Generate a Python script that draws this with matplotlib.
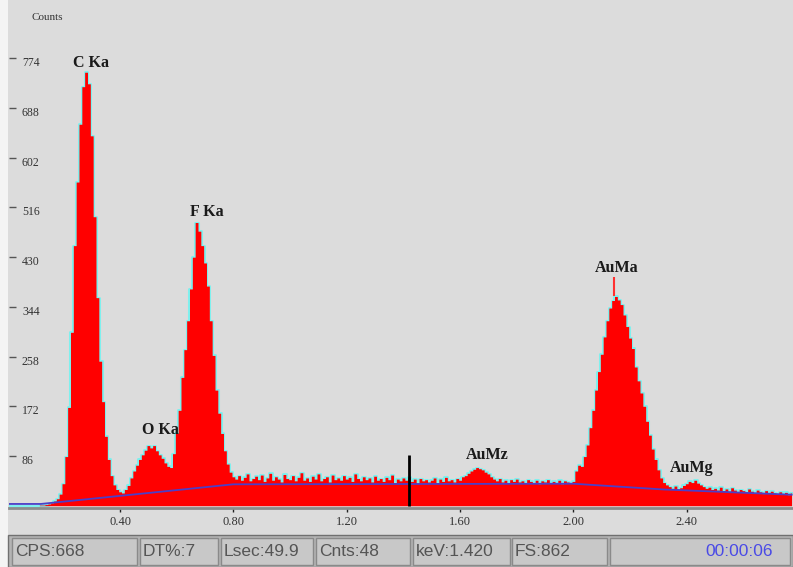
import numpy as np
import matplotlib
matplotlib.use("Agg")
import matplotlib.pyplot as plt
from matplotlib.patches import Rectangle

# EDS spectrum, 10 eV channels starting at 0 keV
channel_kev = 0.01
counts = [
    0, 0, 0, 0, 0, 0, 0, 0, 0, 0,
    0, 0, 1, 1, 2, 3, 5, 8, 12, 20,
    38, 85, 170, 300, 450, 560, 660, 725, 750, 730,
    640, 500, 360, 250, 180, 120, 80, 52, 36, 28,
    24, 22, 28, 35, 48, 60, 70, 80, 88, 96,
    104, 100, 104, 95, 88, 82, 74, 68, 66, 90,
    125, 165, 222, 270, 320, 375, 430, 490, 475, 450,
    420, 380, 320, 260, 200, 160, 125, 95, 72, 58,
    50, 46, 52, 44, 49, 55, 43, 47, 51, 45,
    53, 42, 48, 56, 44, 50, 46, 41, 54, 47,
    45, 52, 43, 49, 57, 44, 48, 42, 51, 46,
    55, 43, 47, 50, 41, 53, 45, 48, 44, 52,
    46, 49, 42, 55, 47, 43, 50, 45, 48, 41,
    51, 44, 47, 42, 49, 45, 53, 40, 46, 43,
    48, 44, 50, 42, 46, 39, 47, 43, 45, 41,
    44, 48, 40, 46, 42, 49, 43, 45, 41, 47,
    44, 50, 52, 56, 60, 63, 66, 64, 62, 58,
    55, 50, 46, 43, 47, 41, 44, 40, 45, 42,
    46, 41, 43, 39, 45, 42, 40, 44, 38, 43,
    41, 45, 39, 42, 40, 44, 38, 43, 41, 40,
    42, 60, 70, 68, 85, 105, 135, 165, 200, 232,
    262, 292, 320, 342, 355, 362, 356, 348, 330, 310,
    290, 272, 240, 216, 195, 172, 146, 122, 98, 80,
    62, 48, 40, 36, 33, 30, 34, 29, 31, 35,
    38, 42, 40, 44, 39, 36, 33, 30, 32, 28,
    30, 27, 32, 26, 29, 25, 31, 27, 24, 28,
    26, 23, 29, 25, 22, 27, 24, 21, 26, 23,
    25, 22, 20, 24, 21, 23, 19, 22,
]
energy = np.arange(len(counts)) * channel_kev

# fitted background
bg_kev = [0.0, 0.12, 0.80, 2.00, 2.32, 2.77]
bg_counts = [3, 3, 37, 38, 28, 19]

x_ticks = [0.40, 0.80, 1.20, 1.60, 2.00, 2.40]
x_labels = ["0.40", "0.80", "1.20", "1.60", "2.00", "2.40"]
y_ticks = [86, 172, 258, 344, 430, 516, 602, 688, 774]

peak_names = ["C Ka", "O Ka", "F Ka", "AuMz", "AuMa", "AuMg"]
peak_label_kev = [0.298, 0.541, 0.707, 1.695, 2.154, 2.419]
peak_label_counts = [766, 131, 508, 88, 411, 65]
auma_kev = 2.144

cursor_kev = 1.420
status_fields = ["CPS:668", "DT%:7", "Lsec:49.9", "Cnts:48", "keV:1.420", "FS:862", ""]
live_time = "00:00:06"

W, H = 793, 567
fig = plt.figure(figsize=(W / 100, H / 100), dpi=100)
fig.patch.set_facecolor("#dcdcdc")


def px_rect(x0, y0, x1, y1, **kw):
    return Rectangle((x0 / W, 1 - y1 / H), (x1 - x0) / W, (y1 - y0) / H,
                     transform=fig.transFigure, **kw)


# white strip down the left edge
fig.add_artist(px_rect(0, 0, 8, H, facecolor="#f4f4f4", edgecolor="none"))

ax = fig.add_axes([9 / W, 1 - 508 / H, (793 - 9) / W, 508 / H])
ax.set_facecolor("#dcdcdc")
ax.set_xlim(0.008, 2.775)
ax.set_ylim(-4, 875)

ax.step(energy, counts, where="mid", color="#7ff0ee", lw=2.2, zorder=1)
ax.fill_between(energy, counts, 0, step="mid", color="#ff0000", lw=0, zorder=2)
ax.plot(bg_kev, bg_counts, color="#4b3fc8", lw=1.3, zorder=3)

# cursor
ax.vlines(cursor_kev, 0, 88, color="black", lw=2, zorder=4)
# AuMa marker
ax.vlines(auma_kev, 362, 396, color="#ff3030", lw=1.5, zorder=4)

serif = "Liberation Serif"
for name, kx, ky in zip(peak_names, peak_label_kev, peak_label_counts):
    ax.text(kx, ky, name, ha="center", va="center", fontsize=11.5,
            fontweight="bold", family=serif, color="#1a1a1a", zorder=5)

for s in ["top", "right", "left"]:
    ax.spines[s].set_visible(False)
ax.spines["bottom"].set_color("#8c8c8c")
ax.spines["bottom"].set_linewidth(2)

ax.set_xticks(x_ticks)
ax.set_xticklabels(x_labels, family=serif, fontsize=9, color="#333333")
ax.tick_params(axis="x", direction="out", length=3, width=1, color="#222222", pad=3)
ax.set_yticks(y_ticks)
ax.set_yticklabels([])
ax.tick_params(axis="y", direction="in", length=5, width=1, color="#555555")
for v in y_ticks:
    ax.annotate(str(v), xy=(0, v), xycoords=("axes fraction", "data"),
                xytext=(13, -5), textcoords="offset pixels", ha="left", va="center",
                family=serif, fontsize=8.5, color="#333333")

fig.text(32 / W, 1 - 18 / H, "Counts", family=serif, fontsize=8,
         color="#333333", ha="left", va="center")

# status bar
fig.add_artist(px_rect(8, 535, W, H, facecolor="#b4b4b4", edgecolor="#707070", lw=1))
panels = [(12, 137), (140, 218), (221, 313), (316, 410), (413, 510), (512, 607), (610, 790)]
for (x0, x1), label in zip(panels, status_fields):
    fig.add_artist(px_rect(x0, 538, x1, 565, facecolor="#c8c8c8",
                           edgecolor="#8a8a8a", lw=1))
    if label:
        fig.text((x0 + 3) / W, 1 - 552 / H, label, family="Liberation Sans",
                 fontsize=12.5, color="#555555", ha="left", va="center")
fig.text(773 / W, 1 - 552 / H, live_time, family="Liberation Sans",
         fontsize=12.5, color="#4a4ae6", ha="right", va="center")

fig.savefig("out.png", dpi=100, facecolor=fig.get_facecolor())
